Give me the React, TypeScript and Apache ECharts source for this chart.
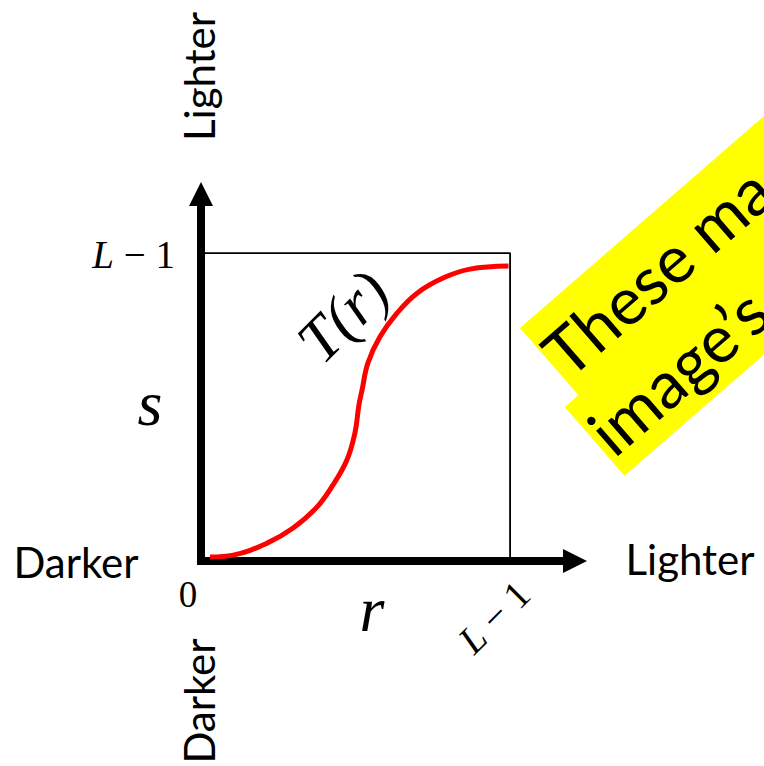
import React, { useEffect, useRef } from "react";
import * as echarts from "echarts";

// Transformation curve s = T(r), in percent of L−1
const curveR = [2.9, 10.4, 21.4, 29.8, 37.5, 42.7, 47.2, 49.8, 51.1, 52.1, 54.0, 57.9, 63.4, 69.9, 78.3, 87.0, 99.5];
const curveS = [1.3, 1.9, 5.8, 10.7, 17.5, 24.7, 32.8, 41.6, 50.7, 55.5, 64.3, 72.8, 80.5, 87.0, 91.9, 94.8, 95.8];

// Box from (0, L−1) to (L−1, L−1) to (L−1, 0)
const boxR = [0, 100, 100];
const boxS = [100, 100, 0];

const axisMaxR = 121;
const axisMaxS = 119.2;

const tickLabel = "{i|L} − 1";
const originLabel = "0";
const rLabel = "r";
const sLabel = "s";
const curveLabel = "T(r)";
const darker = "Darker";
const lighter = "Lighter";
const noteLine1 = "These ma";
const noteLine2 = "image’s";

export default function App() {
  const ref = useRef<HTMLDivElement>(null);

  useEffect(() => {
    if (!ref.current) return;
    const chart = echarts.init(ref.current, undefined, { renderer: "svg" });
    const sans = "Lato, 'Open Sans', sans-serif";
    const serif = "'Liberation Serif', 'DejaVu Serif', serif";
    const rot90 = Math.PI / 2;
    const rot45 = Math.PI / 4;
    const noteRot = (41 * Math.PI) / 180;
    const word = 42;

    chart.setOption({
      animation: false,
      backgroundColor: "#ffffff",
      grid: { left: 201, top: 194, width: 374, height: 367 },
      xAxis: {
        type: "value",
        min: 0,
        max: axisMaxR,
        axisLine: {
          onZero: true,
          symbol: ["none", "triangle"],
          symbolSize: [24, 24],
          lineStyle: { color: "#000", width: 8, cap: "square" },
        },
        axisTick: { show: false },
        axisLabel: { show: false },
        splitLine: { show: false },
      },
      yAxis: {
        type: "value",
        min: 0,
        max: axisMaxS,
        axisLine: {
          onZero: true,
          symbol: ["none", "triangle"],
          symbolSize: [24, 24],
          lineStyle: { color: "#000", width: 8, cap: "square" },
        },
        axisTick: { show: false },
        axisLabel: { show: false },
        splitLine: { show: false },
      },
      series: [
        {
          type: "line",
          data: boxR.map((r, i) => [r, boxS[i]]),
          symbol: "none",
          lineStyle: { color: "#000", width: 1.8 },
          z: 1,
          silent: true,
        },
        {
          type: "line",
          data: curveR.map((r, i) => [r, curveS[i]]),
          smooth: 0.4,
          symbol: "none",
          lineStyle: { color: "#ff0000", width: 5, cap: "butt" },
          z: 3,
          silent: true,
        },
      ],
      graphic: [
        {
          type: "text",
          x: 76,
          y: 562,
          style: { text: darker, font: `${word}px ${sans}`, fill: "#000", align: "center", verticalAlign: "middle" },
        },
        {
          type: "text",
          x: 690,
          y: 559,
          style: { text: lighter, font: `${word}px ${sans}`, fill: "#000", align: "center", verticalAlign: "middle" },
        },
        {
          type: "text",
          x: 199,
          y: 76.5,
          rotation: rot90,
          style: { text: lighter, font: `${word}px ${sans}`, fill: "#000", align: "center", verticalAlign: "middle" },
        },
        {
          type: "text",
          x: 199,
          y: 701,
          rotation: rot90,
          style: { text: darker, font: `${word}px ${sans}`, fill: "#000", align: "center", verticalAlign: "middle" },
        },
        {
          type: "text",
          x: 175,
          y: 254.5,
          style: {
            text: tickLabel,
            font: `39px ${serif}`,
            fill: "#000",
            align: "right",
            verticalAlign: "middle",
            rich: { i: { fontStyle: "italic", fontSize: 39, fontFamily: serif } },
          },
        },
        {
          type: "text",
          x: 494,
          y: 617,
          rotation: rot45,
          style: {
            text: tickLabel,
            font: `39px ${serif}`,
            fill: "#000",
            align: "center",
            verticalAlign: "middle",
            rich: { i: { fontStyle: "italic", fontSize: 39, fontFamily: serif } },
          },
        },
        {
          type: "text",
          x: 188,
          y: 594.5,
          style: { text: originLabel, font: `37px ${serif}`, fill: "#000", align: "center", verticalAlign: "middle" },
        },
        {
          type: "text",
          x: 150,
          y: 403,
          style: { text: sLabel, font: `italic 64px ${serif}`, fill: "#000", align: "center", verticalAlign: "middle" },
        },
        {
          type: "text",
          x: 372,
          y: 609,
          style: { text: rLabel, font: `italic 64px ${serif}`, fill: "#000", align: "center", verticalAlign: "middle" },
        },
        {
          type: "text",
          x: 343,
          y: 316,
          rotation: rot45,
          style: { text: curveLabel, font: `italic 62px ${serif}`, fill: "#000", align: "center", verticalAlign: "middle" },
        },
        {
          type: "group",
          x: 520,
          y: 328,
          rotation: noteRot,
          children: [
            { type: "rect", shape: { x: 0, y: 0, width: 420, height: 89.5 }, style: { fill: "#ffff00" } },
            { type: "rect", shape: { x: -18, y: 89, width: 440, height: 91 }, style: { fill: "#ffff00" } },
            {
              type: "text",
              x: 2,
              y: 46.5,
              style: { text: noteLine1, font: `66px ${sans}`, fill: "#000", align: "left", verticalAlign: "middle" },
            },
            {
              type: "text",
              x: -15,
              y: 135.5,
              style: { text: noteLine2, font: `66px ${sans}`, fill: "#000", align: "left", verticalAlign: "middle" },
            },
          ],
        },
      ],
    });

    return () => chart.dispose();
  }, []);

  return (
    <div
      ref={ref}
      style={{ position: "fixed", left: 0, top: 0, width: 764, height: 766, background: "#fff" }}
    />
  );
}
